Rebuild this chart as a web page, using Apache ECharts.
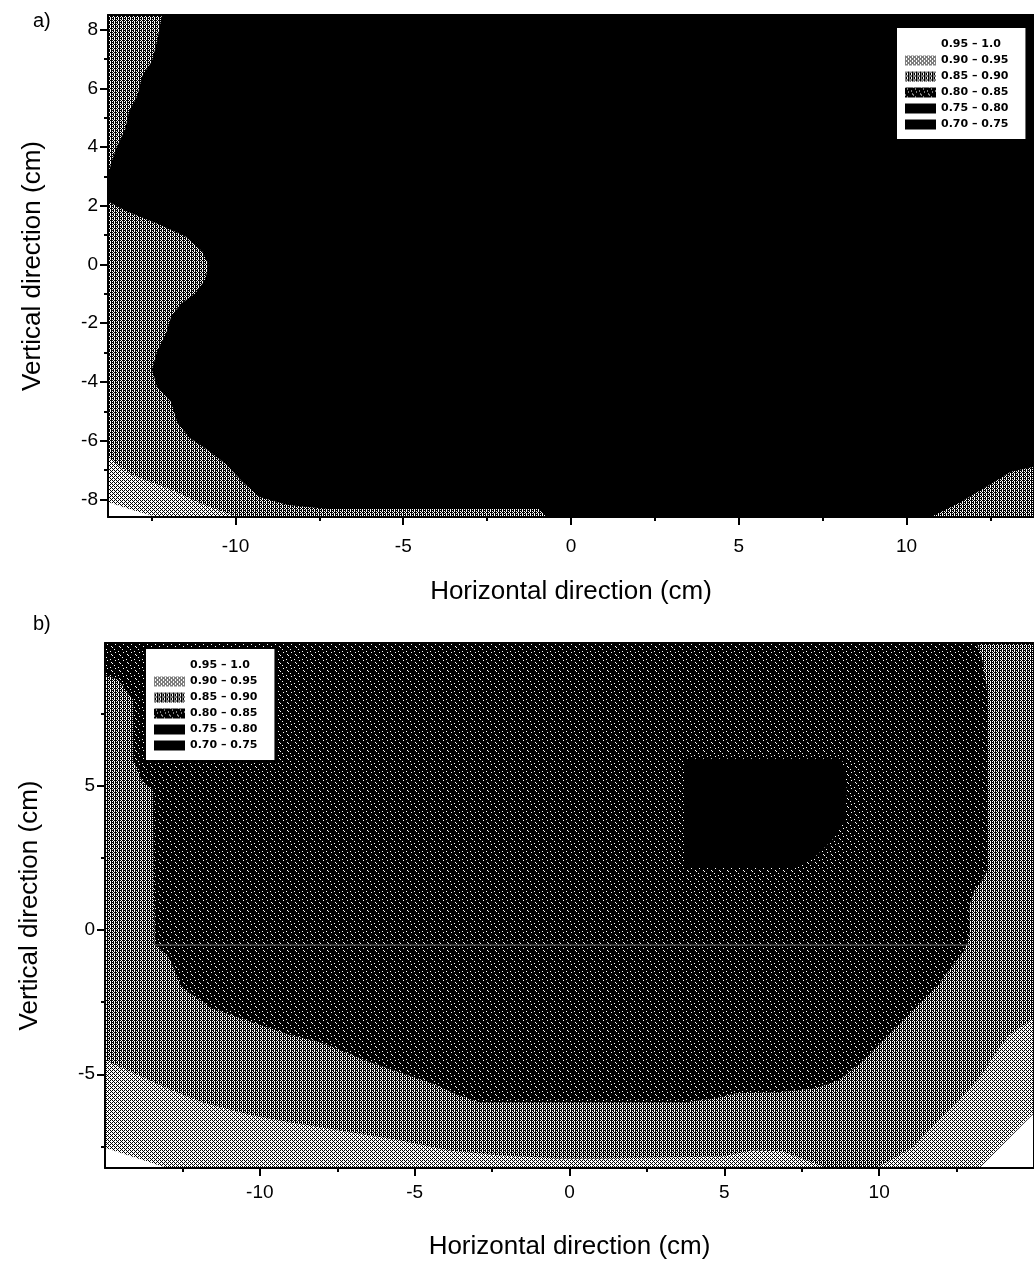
<!DOCTYPE html>
<html>
<head>
<meta charset="utf-8">
<script src="https://cdn.jsdelivr.net/npm/echarts@6/dist/echarts.min.js"></script>
<style>
  html, body { margin: 0; padding: 0; background: #fff; }
  #chart { width: 1034px; height: 1288px; }
</style>
</head>
<body>
<div id="chart"></div>
<script>
// ---------- contour bands (ratio ranges) ----------
const bandNames = ['0.95 – 1.0', '0.90 – 0.95', '0.85 – 0.90', '0.80 – 0.85', '0.75 – 0.80', '0.70 – 0.75'];

// ---------- panel a: axes (cm) ----------
const aRangeX = [-13.8, 13.8];
const aRangeY = [-8.6, 8.5];
const aXLabels = [-10, -5, 0, 5, 10];
const aXMinor = [-12.5, -7.5, -2.5, 2.5, 7.5, 12.5];
const aYLabels = [-8, -6, -4, -2, 0, 2, 4, 6, 8];
const aYMinor = [-7, -5, -3, -1, 1, 3, 5, 7];

// panel a: region vertices [x, y] in cm
const aBody = [[-13.8, 8.5], [13.8, 8.5], [13.8, -8.6], [-13.8, -8.6]];
const aMidUpperLeft = [
  [-13.8, 8.5], [-12.19, 8.5], [-12.34, 7.61], [-12.49, 6.93], [-12.78, 6.42],
  [-12.93, 5.73], [-13.17, 5.22], [-13.29, 4.61], [-13.53, 4.03], [-13.71, 3.45], [-13.8, 3.0]
];
const aMidLowerLeft = [
  [-13.8, 2.15], [-13.23, 1.81], [-12.34, 1.40], [-11.5, 0.96], [-10.99, 0.44], [-10.81, 0],
  [-10.9, -0.51], [-11.2, -0.99], [-11.62, -1.33], [-11.92, -1.77], [-12.07, -2.35],
  [-12.34, -2.97], [-12.49, -3.58], [-12.34, -4.16], [-11.92, -4.68], [-11.74, -5.36],
  [-11.38, -5.9], [-10.84, -6.31], [-10.3, -6.79], [-9.79, -7.41], [-9.28, -7.92],
  [-8.44, -8.19], [-7.25, -8.33], [-0.96, -8.33], [-0.72, -8.6], [-13.8, -8.6]
];
const aMidLowerRight = [
  [10.72, -8.6], [11.62, -8.09], [12.37, -7.58], [13.11, -7.06], [13.8, -6.89], [13.8, -8.6]
];
const aLightCorner = [
  [-13.8, -6.55], [-13.17, -7.13], [-11.89, -7.68], [-10.99, -8.16], [-9.94, -8.6], [-13.8, -8.6]
];
const aWhiteCorner = [
  [-13.8, -8.09], [-13.08, -8.36], [-12.34, -8.6], [-13.8, -8.6]
];

// ---------- panel b: axes (cm) ----------
const bRangeX = [-15, 15];
const bRangeY = [-8.25, 9.95];
const bXLabels = [-10, -5, 0, 5, 10];
const bXMinor = [-12.5, -7.5, -2.5, 2.5, 7.5, 12.5];
const bYLabels = [-5, 0, 5];
const bYMinor = [-7.5, -2.5, 2.5, 7.5];

// panel b: nested regions, each lying inside the previous one
const bWhole = [[-15, 9.95], [15, 9.95], [15, -8.25], [-15, -8.25]];
const bBelow095 = [
  [-15, 9.95], [15, 9.95], [15, -6.35], [14.74, -6.63], [13.24, -8.25],
  [-12.98, -8.25], [-13.94, -7.92], [-15, -7.55]
];
const bBelow090 = [
  [-15, 9.95], [15, 9.95], [15, -3.06], [14.19, -3.65], [13.65, -4.44], [13.43, -4.86],
  [12.6, -5.9], [11.83, -6.7], [11.1, -7.53], [9.92, -8.25], [8.33, -8.25], [6.86, -7.67],
  [5.9, -7.64], [4.94, -7.85], [0.89, -7.92], [-0.38, -7.92], [-2.3, -7.81], [-3.89, -7.64],
  [-5.49, -7.29], [-7.08, -7.01], [-8.04, -6.84], [-9.0, -6.67], [-10.27, -6.42],
  [-11.87, -5.97], [-12.82, -5.56], [-13.94, -5.03], [-15, -4.51]
];
const bBelow085 = [
  [-15, 9.95], [13.17, 9.95], [13.33, 9.38], [13.49, 8.33], [13.49, 2.08], [13.33, 1.74],
  [13.08, 1.39], [12.92, 0.87], [12.92, -0.17], [12.76, -0.69], [12.38, -1.22], [11.9, -1.91],
  [11.42, -2.43], [10.78, -3.13], [10.14, -3.82], [9.51, -4.51], [8.71, -5.21], [7.91, -5.49],
  [6.63, -5.63], [5.36, -5.66], [4.72, -5.83], [3.76, -5.97], [-2.93, -5.97], [-3.57, -5.73],
  [-4.53, -5.28], [-5.49, -4.93], [-6.44, -4.58], [-7.4, -4.17], [-8.04, -3.89], [-9.0, -3.65],
  [-10.27, -3.19], [-11.55, -2.71], [-12.18, -2.26], [-12.57, -1.91], [-12.76, -1.39],
  [-12.98, -0.87], [-13.4, -0.52], [-13.46, 4.86], [-13.78, 5.1], [-14.1, 5.9], [-14.1, 7.99],
  [-14.58, 8.68], [-15, 8.85]
];
const bBelow080 = [
  [3.7, 5.94], [8.8, 5.94], [8.96, 4.86], [8.9, 3.82], [8.49, 3.13], [8.0, 2.6], [7.3, 2.15], [3.7, 2.15]
];
// faint seam inside the 0.80 – 0.85 region
const bSeam = [[-13.4, -0.52], [12.92, -0.52]];

// ---------- fill textures (halftone-like tiles) ----------
function texture(rows) {
  const c = document.createElement('canvas');
  c.width = rows[0].length; c.height = rows.length;
  const ctx = c.getContext('2d');
  ctx.fillStyle = '#fff'; ctx.fillRect(0, 0, c.width, c.height);
  ctx.fillStyle = '#000';
  rows.forEach((r, y) => r.split('').forEach((ch, x) => { if (ch === '#') ctx.fillRect(x, y, 1, 1); }));
  return { image: c, repeat: 'repeat' };
}
const bandFill = {
  '0.95 – 1.0': '#ffffff',
  '0.90 – 0.95': texture(['#.#.', '.#..', '#.#.', '...#']),
  '0.85 – 0.90': texture(['#.##', '.#.#', '##.#', '.#.#']),
  '0.80 – 0.85': texture([
    '########', '##.#####', '########', '######.#',
    '###.####', '########', '#######.', '.#######'
  ]),
  '0.75 – 0.80': '#000000',
  '0.70 – 0.75': '#000000'
};

function regionSeries(name, polys, gridNo) {
  return {
    type: 'custom', name: name,
    coordinateSystem: 'cartesian2d',
    xAxisIndex: gridNo * 3, yAxisIndex: gridNo * 3,
    itemStyle: { color: bandFill[name] },
    silent: true, z: 1,
    data: polys.map((p, i) => [i]),
    renderItem: function (params, api) {
      const pts = polys[params.dataIndex].map(v => api.coord(v));
      return { type: 'polygon', shape: { points: pts }, style: { fill: bandFill[name], stroke: null } };
    }
  };
}

// ---------- axes ----------
const font = 'Liberation Sans';
function axesFor(gridNo, rx, ry, xLab, xMin, yLab, yMin, names, labelMargin, nameGapX) {
  const line = { show: true, onZero: false, lineStyle: { color: '#000', width: 2 } };
  const none = { show: false };
  const hidden = { show: false, onZero: false };
  const xs = [
    { gridIndex: gridNo, type: 'value', min: rx[0], max: rx[1], position: 'bottom', z: 10,
      axisLine: line, splitLine: none,
      axisTick: { show: true, customValues: xLab, length: 8, lineStyle: { color: '#000', width: 2 } },
      axisLabel: { show: true, customValues: xLab, margin: labelMargin, color: '#000', fontSize: 19, fontFamily: font },
      name: names[0], nameLocation: 'middle', nameGap: nameGapX,
      nameTextStyle: { fontSize: 26, color: '#000', fontFamily: font } },
    { gridIndex: gridNo, type: 'value', min: rx[0], max: rx[1], position: 'bottom', z: 10,
      axisLine: hidden, splitLine: none, axisLabel: none,
      axisTick: { show: true, customValues: xMin, length: 4, lineStyle: { color: '#000', width: 2 } } },
    { gridIndex: gridNo, type: 'value', min: rx[0], max: rx[1], position: 'top', z: 10,
      axisLine: line, splitLine: none, axisLabel: none, axisTick: none }
  ];
  const ys = [
    { gridIndex: gridNo, type: 'value', min: ry[0], max: ry[1], position: 'left', z: 10,
      axisLine: line, splitLine: none,
      axisTick: { show: true, customValues: yLab, length: 8, lineStyle: { color: '#000', width: 2 } },
      axisLabel: { show: true, customValues: yLab, margin: 10, color: '#000', fontSize: 19, fontFamily: font },
      name: names[1], nameLocation: 'middle', nameGap: 62, nameRotate: 90,
      nameTextStyle: { fontSize: 26, color: '#000', fontFamily: font } },
    { gridIndex: gridNo, type: 'value', min: ry[0], max: ry[1], position: 'left', z: 10,
      axisLine: hidden, splitLine: none, axisLabel: none,
      axisTick: { show: true, customValues: yMin, length: 4, lineStyle: { color: '#000', width: 2 } } },
    { gridIndex: gridNo, type: 'value', min: ry[0], max: ry[1], position: 'right', z: 10,
      axisLine: line, splitLine: none, axisLabel: none, axisTick: none }
  ];
  return { xs, ys };
}
const titles = ['Horizontal direction (cm)', 'Vertical direction (cm)'];
const axA = axesFor(0, aRangeX, aRangeY, aXLabels, aXMinor, aYLabels, aYMinor, titles, 20, 62);
const axB = axesFor(1, bRangeX, bRangeY, bXLabels, bXMinor, bYLabels, bYMinor, titles, 15, 66);

const legendBase = {
  data: bandNames, orient: 'vertical', icon: 'rect',
  itemWidth: 31, itemHeight: 10, itemGap: 5,
  selectedMode: false,
  backgroundColor: '#fff', borderColor: '#000', borderWidth: 2, borderRadius: 0,
  padding: [12, 18, 10, 9],
  textStyle: { fontSize: 11, fontWeight: 'bold', color: '#000', fontFamily: 'DejaVu Sans' }
};

const option = {
  animation: false,
  backgroundColor: '#fff',
  title: [
    { text: 'a)', left: 28, top: 6, textStyle: { fontSize: 20, fontWeight: 'normal', color: '#000', fontFamily: font } },
    { text: 'b)', left: 28, top: 609, textStyle: { fontSize: 20, fontWeight: 'normal', color: '#000', fontFamily: font } }
  ],
  grid: [
    { left: 108, top: 15, width: 928, height: 502 },
    { left: 105, top: 643, width: 940, height: 525 }
  ],
  xAxis: axA.xs.concat(axB.xs),
  yAxis: axA.ys.concat(axB.ys),
  legend: [
    Object.assign({}, legendBase, { left: 896, top: 27 }),
    Object.assign({}, legendBase, { left: 145, top: 648 })
  ],
  series: [
    regionSeries('0.75 – 0.80', [aBody], 0),
    regionSeries('0.70 – 0.75', [], 0),
    regionSeries('0.80 – 0.85', [], 0),
    regionSeries('0.85 – 0.90', [aMidUpperLeft, aMidLowerLeft, aMidLowerRight], 0),
    regionSeries('0.90 – 0.95', [aLightCorner], 0),
    regionSeries('0.95 – 1.0', [aWhiteCorner], 0),

    regionSeries('0.95 – 1.0', [bWhole], 1),
    regionSeries('0.90 – 0.95', [bBelow095], 1),
    regionSeries('0.85 – 0.90', [bBelow090], 1),
    regionSeries('0.80 – 0.85', [bBelow085], 1),
    regionSeries('0.75 – 0.80', [bBelow080], 1),
    regionSeries('0.70 – 0.75', [], 1),
    {
      type: 'line', name: 'seam', xAxisIndex: 3, yAxisIndex: 3, z: 2, silent: true,
      data: bSeam, symbol: 'none', lineStyle: { color: '#777', width: 1 }
    }
  ]
};

const chart = echarts.init(document.getElementById('chart'), null, { renderer: 'canvas' });
chart.setOption(option);
</script>
</body>
</html>
